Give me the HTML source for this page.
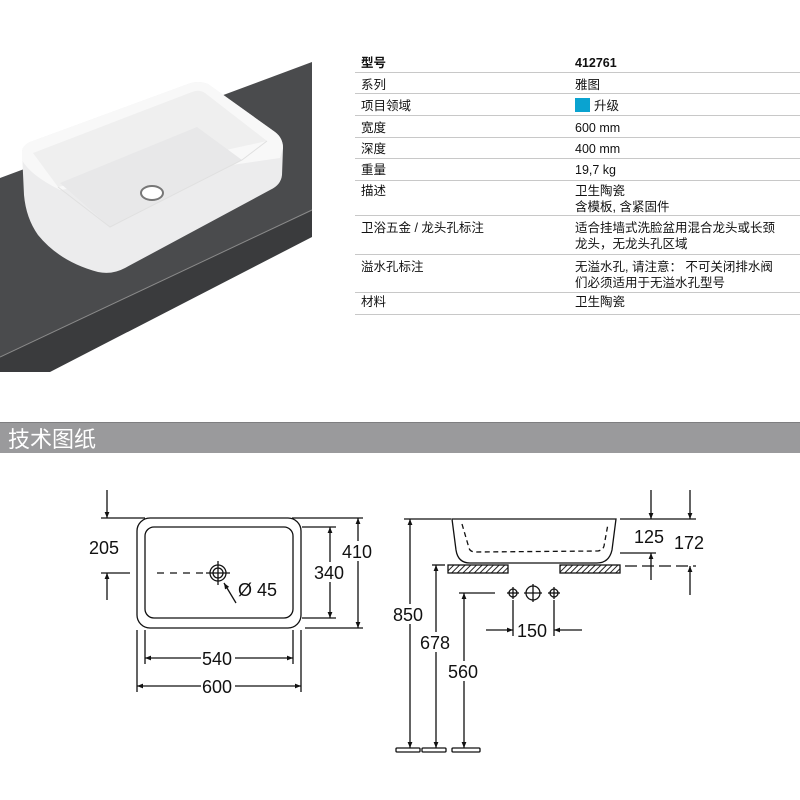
<!DOCTYPE html>
<html><head><meta charset="utf-8"><style>
body{margin:0;width:800px;height:800px;background:#fff;position:relative;overflow:hidden;font-family:"Liberation Sans","Noto Sans CJK SC",sans-serif}
.t{position:absolute;font-size:12.5px;color:#111;line-height:16px}
.l{position:absolute;left:355px;width:445px;height:1px;background:#c8c8c8}
</style></head><body>
<svg width="800" height="800" style="position:absolute;left:0;top:0" xmlns="http://www.w3.org/2000/svg">
<defs>
<marker id="a" viewBox="0 0 10 10" refX="10" refY="5" markerWidth="10" markerHeight="6" orient="auto-start-reverse" markerUnits="userSpaceOnUse"><path d="M0,1 L10,5 L0,9 z" fill="#111"/></marker>
<pattern id="h" width="4" height="4" patternUnits="userSpaceOnUse" patternTransform="rotate(45)"><rect width="4" height="4" fill="#fff"/><line x1="0" y1="0" x2="0" y2="4" stroke="#222" stroke-width="2"/></pattern>
</defs>
<!-- countertop photo -->
<polygon points="0,178 312,62 312,210 0,357" fill="#4a4b4d"/>
<polygon points="0,357 312,210 312,237 50,372 0,372" fill="#3a3b3d"/>
<line x1="0" y1="357" x2="312" y2="210" stroke="#8a8a8a" stroke-width="1"/>
<!-- sink -->
<path d="M22,152 Q22,146 30,142 L188,84 Q198,80 208,84 L275,132 Q283,138 283,148 L282,175 Q281,185 270,190 L125,268 Q112,275 98,272 Q60,262 38,235 Q26,218 24,195 Z" fill="#ececed"/>
<path d="M22,152 Q22,146 30,142 L188,84 Q198,80 208,84 L275,132 Q283,138 283,148 L280,158 L60,190 Q30,175 22,160 Z" fill="#f8f8f8"/>
<path d="M33,153 L192,92 Q199,89 205,93 L267,141 L58,187 Z" fill="#efefef"/>
<path d="M60,183 L197,127 L242,160 L110,227 Z" fill="#e8e8e9"/>
<path d="M58,187 L110,227 L242,160 L267,141" fill="none" stroke="#e0e0e0"/>
<ellipse cx="152" cy="193" rx="11" ry="7" fill="#fff" stroke="#777" stroke-width="2"/>
<!-- header bar -->
<rect x="0" y="422" width="800" height="31" fill="#9a9a9c"/>
<line x1="0" y1="422.5" x2="800" y2="422.5" stroke="#7e7e80"/>
<text x="8" y="447" font-size="22" fill="#fff" font-family="Liberation Sans,Noto Sans CJK SC,sans-serif">技术图纸</text>
<g stroke="#111" stroke-width="1.3" fill="none">
<!-- plan view -->
<rect x="137" y="518" width="164" height="110" rx="13"/>
<rect x="145" y="527" width="148" height="91" rx="9"/>
<circle cx="218" cy="573" r="8"/><circle cx="218" cy="573" r="5"/>
<line x1="206" y1="573" x2="230" y2="573"/><line x1="218" y1="561" x2="218" y2="585"/>
<line x1="157" y1="573" x2="205" y2="573" stroke-dasharray="7,6"/>
<line x1="236" y1="603" x2="224" y2="583" marker-end="url(#a)"/>
<line x1="101" y1="518" x2="145" y2="518"/><line x1="101" y1="573" x2="130" y2="573"/>
<line x1="107" y1="490" x2="107" y2="518" marker-end="url(#a)"/>
<line x1="107" y1="600" x2="107" y2="573" marker-end="url(#a)"/>
<line x1="302" y1="527" x2="336" y2="527"/><line x1="302" y1="618" x2="336" y2="618"/>
<line x1="330" y1="527" x2="330" y2="618" marker-start="url(#a)" marker-end="url(#a)"/>
<line x1="292" y1="518" x2="363" y2="518"/><line x1="305" y1="628" x2="363" y2="628"/>
<line x1="358" y1="518" x2="358" y2="628" marker-start="url(#a)" marker-end="url(#a)"/>
<line x1="145" y1="630" x2="145" y2="664"/><line x1="293" y1="630" x2="293" y2="664"/>
<line x1="145" y1="658" x2="293" y2="658" marker-start="url(#a)" marker-end="url(#a)"/>
<line x1="137" y1="630" x2="137" y2="692"/><line x1="301" y1="630" x2="301" y2="692"/>
<line x1="137" y1="686" x2="301" y2="686" marker-start="url(#a)" marker-end="url(#a)"/>
<!-- side view -->
<line x1="404" y1="519" x2="451" y2="519"/>
<path d="M452,519 L616,519 L612,550 Q609,563 597,563 L470,563 Q458,563 456,550 Z"/>
<path d="M462,524 L469,548 Q470,552 476,552 L598,551 Q603,550 604,546 L608,524" stroke-dasharray="5,3.5"/>
<rect x="448" y="565" width="60" height="8" fill="url(#h)"/>
<rect x="560" y="565" width="60" height="8" fill="url(#h)"/>
<line x1="432" y1="565" x2="445" y2="565"/>
<line x1="620" y1="519" x2="696" y2="519"/>
<line x1="620" y1="553" x2="656" y2="553"/>
<line x1="625" y1="566" x2="696" y2="566" stroke-dasharray="12,5"/>
<line x1="651" y1="490" x2="651" y2="519" marker-end="url(#a)"/>
<line x1="651" y1="580" x2="651" y2="553" marker-end="url(#a)"/>
<line x1="690" y1="490" x2="690" y2="519" marker-end="url(#a)"/>
<line x1="690" y1="595" x2="690" y2="566" marker-end="url(#a)"/>
<line x1="410" y1="519" x2="410" y2="748" marker-start="url(#a)" marker-end="url(#a)"/>
<line x1="436" y1="565" x2="436" y2="748" marker-start="url(#a)" marker-end="url(#a)"/>
<line x1="459" y1="593" x2="495" y2="593"/>
<line x1="464" y1="593" x2="464" y2="748" marker-start="url(#a)" marker-end="url(#a)"/>
<rect x="396" y="748" width="24" height="4" rx="1"/><rect x="422" y="748" width="24" height="4" rx="1"/><rect x="452" y="748" width="28" height="4" rx="1"/>
<circle cx="513" cy="593" r="4"/><line x1="507" y1="593" x2="519" y2="593"/><line x1="513" y1="587" x2="513" y2="599"/>
<circle cx="533" cy="593" r="7"/><line x1="524" y1="593" x2="542" y2="593"/><line x1="533" y1="584" x2="533" y2="602"/>
<circle cx="554" cy="593" r="4"/><line x1="548" y1="593" x2="560" y2="593"/><line x1="554" y1="587" x2="554" y2="599"/>
<line x1="513" y1="600" x2="513" y2="636"/><line x1="554" y1="600" x2="554" y2="636"/>
<line x1="486" y1="630" x2="513" y2="630" marker-end="url(#a)"/>
<line x1="582" y1="630" x2="554" y2="630" marker-end="url(#a)"/>
</g>
<!-- label backgrounds to break lines -->
<g fill="#fff">
<rect x="314" y="562" width="32" height="20"/>
<rect x="342" y="541" width="32" height="20"/>
<rect x="201" y="648" width="34" height="20"/>
<rect x="201" y="676" width="34" height="20"/>
<rect x="393" y="604" width="34" height="20"/>
<rect x="420" y="632" width="32" height="20"/>
<rect x="448" y="661" width="32" height="20"/>
</g>
<g font-size="18" fill="#111" font-family="Liberation Sans,sans-serif">
<text x="89" y="554">205</text>
<text x="238" y="596">Ø 45</text>
<text x="314" y="579">340</text>
<text x="342" y="558">410</text>
<text x="202" y="665">540</text>
<text x="202" y="693">600</text>
<text x="634" y="543">125</text>
<text x="674" y="549">172</text>
<text x="393" y="621">850</text>
<text x="420" y="649">678</text>
<text x="448" y="678">560</text>
<text x="517" y="637">150</text>
</g>
</svg>
<div class="t" style="left:361px;top:55px;font-weight:bold">型号</div>
<div class="t" style="left:575px;top:55px;font-weight:bold">412761</div>
<div class="l" style="top:72px"></div>
<div class="t" style="left:361px;top:77px">系列</div><div class="t" style="left:575px;top:77px">雅图</div>
<div class="l" style="top:93px"></div>
<div class="t" style="left:361px;top:98px">项目领域</div><div class="t" style="left:575px;top:98px"><span style="display:inline-block;width:15px;height:14px;background:#0aa3d0;vertical-align:-2px;margin-right:4px"></span>升级</div>
<div class="l" style="top:115px"></div>
<div class="t" style="left:361px;top:120px">宽度</div><div class="t" style="left:575px;top:120px">600 mm</div>
<div class="l" style="top:137px"></div>
<div class="t" style="left:361px;top:141px">深度</div><div class="t" style="left:575px;top:141px">400 mm</div>
<div class="l" style="top:158px"></div>
<div class="t" style="left:361px;top:162px">重量</div><div class="t" style="left:575px;top:162px">19,7 kg</div>
<div class="l" style="top:180px"></div>
<div class="t" style="left:361px;top:183px">描述</div><div class="t" style="left:575px;top:183px">卫生陶瓷<br>含模板, 含紧固件</div>
<div class="l" style="top:215px"></div>
<div class="t" style="left:361px;top:220px">卫浴五金 / 龙头孔标注</div><div class="t" style="left:575px;top:220px">适合挂墙式洗脸盆用混合龙头或长颈<br>龙头，无龙头孔区域</div>
<div class="l" style="top:254px"></div>
<div class="t" style="left:361px;top:259px">溢水孔标注</div><div class="t" style="left:575px;top:259px">无溢水孔, 请注意： 不可关闭排水阀<br>们必须适用于无溢水孔型号</div>
<div class="l" style="top:292px"></div>
<div class="t" style="left:361px;top:294px">材料</div><div class="t" style="left:575px;top:294px">卫生陶瓷</div>
<div class="l" style="top:314px"></div>
</body></html>
